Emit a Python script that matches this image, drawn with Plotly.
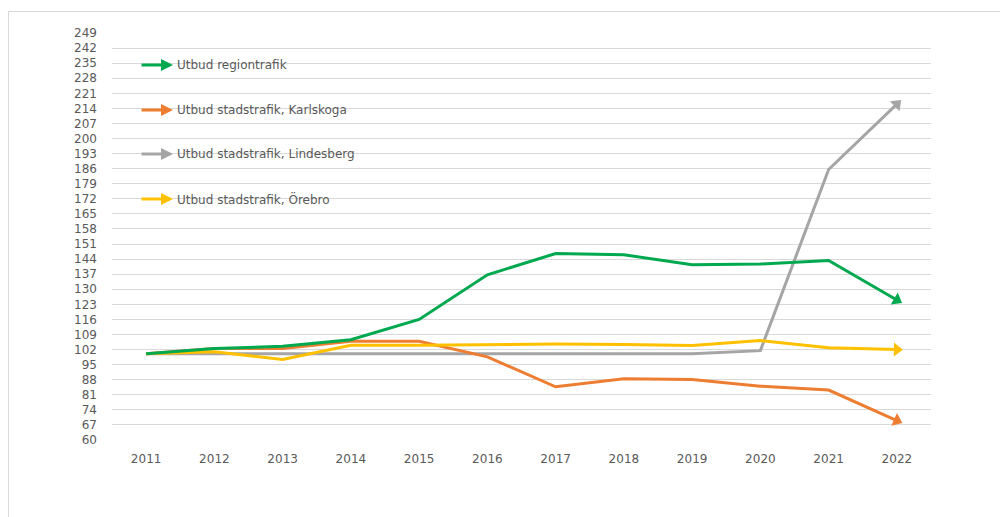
import plotly.graph_objects as go

years = ["2011", "2012", "2013", "2014", "2015", "2016", "2017", "2018", "2019", "2020", "2021", "2022"]
regiontrafik = [100, 102.5, 103.5, 106.6, 116, 136.7, 146.6, 146, 141.4, 141.7, 143.4, 125]
karlskoga = [100, 102.5, 102.5, 105.8, 105.8, 98.6, 84.7, 88.4, 88.1, 85, 83.2, 69]
lindesberg = [100, 100, 100, 100, 100, 100, 100, 100, 100, 101.5, 185.6, 216]
orebro = [100, 101, 97.4, 104, 104, 104.4, 104.6, 104.3, 103.9, 106.2, 102.8, 102]
series_names = ["Utbud regiontrafik", "Utbud stadstrafik, Karlskoga",
                "Utbud stadstrafik, Lindesberg", "Utbud stadstrafik, Örebro"]
colors = ["#00A94F", "#ED7D31", "#A5A5A5", "#FFC000"]
y_ticks = list(range(60, 250, 7))

# page has an 8px body margin; figure sits at (8, 8) in the window
OFF = 8
W, H = 1000, 509
L, R, T, B = 112 - OFF, W - (931 - OFF), 33 - OFF, H - (440 - OFF)

FONT = "DejaVu Sans, Verdana, sans-serif"
TXT = "#595959"

fig = go.Figure()
data = [regiontrafik, karlskoga, lindesberg, orebro]
order = [2, 1, 3, 0]
n = len(years)
for i in order:
    fig.add_trace(go.Scatter(
        x=years, y=data[i], name=series_names[i], mode="lines+markers",
        line=dict(color=colors[i], width=3),
        marker=dict(symbol=["circle"] * (n - 1) + ["triangle-up"],
                    size=[0] * (n - 1) + [12],
                    angleref="previous", color=colors[i], opacity=1,
                    line=dict(width=0)),
        showlegend=False, hoverinfo="x+y+name",
    ))

def px_to_paper_x(px):
    return (px - OFF - L) / (W - L - R)

def px_to_paper_y(py):
    return (H - B - (py - OFF)) / (H - T - B)

legend_y = [65, 110, 154, 199]
for i, name in enumerate(series_names):
    yp = px_to_paper_y(legend_y[i])
    fig.add_annotation(x=px_to_paper_x(173), y=yp, xref="paper", yref="paper",
                       text="", showarrow=True, ax=-33, ay=0,
                       arrowhead=2, arrowsize=0.8, arrowwidth=3,
                       arrowcolor=colors[i])
    fig.add_annotation(x=px_to_paper_x(175), y=yp, xref="paper", yref="paper",
                       text=name, showarrow=False, xanchor="left", yanchor="middle",
                       font=dict(family=FONT, size=12, color=TXT))

# chart border (top and left edges)
fig.add_shape(type="line", xref="paper", yref="paper",
              x0=px_to_paper_x(8), x1=px_to_paper_x(1010),
              y0=px_to_paper_y(11.5), y1=px_to_paper_y(11.5),
              line=dict(color="#D9D9D9", width=1))
fig.add_shape(type="line", xref="paper", yref="paper",
              x0=px_to_paper_x(8.5), x1=px_to_paper_x(8.5),
              y0=px_to_paper_y(11.5), y1=px_to_paper_y(530),
              line=dict(color="#D9D9D9", width=1))

fig.update_layout(
    width=W, height=H,
    margin=dict(l=L, r=R, t=T, b=B),
    paper_bgcolor="white", plot_bgcolor="white",
    font=dict(family=FONT, size=12, color=TXT),
    xaxis=dict(type="category", range=[-0.5, n - 0.5], showgrid=False,
               showline=False, ticks="", tickfont=dict(family=FONT, size=12, color=TXT),
               ticklabelstandoff=10),
    yaxis=dict(range=[60, 249], tickvals=y_ticks, showgrid=True,
               gridcolor="#D9D9D9", gridwidth=1, zeroline=False,
               showline=False, ticks="", tickfont=dict(family=FONT, size=12, color=TXT),
               ticklabelstandoff=14),
)

fig.write_html("out.html")
